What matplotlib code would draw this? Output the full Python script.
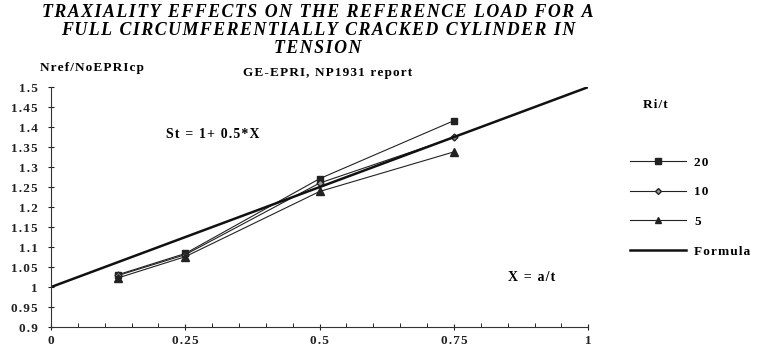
import numpy as np
import matplotlib.pyplot as plt
from matplotlib.ticker import MultipleLocator, FixedLocator

# a/t values and reference load ratios
x = [0.125, 0.25, 0.5, 0.75]
r20 = [1.031, 1.084, 1.271, 1.416]
r10 = [1.029, 1.081, 1.260, 1.374]
r5 = [1.023, 1.076, 1.239, 1.338]
formula_x = [0.0, 1.0]
formula_y = [1.0 + 0.5 * v for v in formula_x]

yticks = [0.9, 0.95, 1, 1.05, 1.1, 1.15, 1.2, 1.25, 1.3, 1.35, 1.4, 1.45, 1.5]
ylabels = ['0.9', '0.95', '1', '1.05', '1.1', '1.15', '1.2', '1.25', '1.3', '1.35', '1.4', '1.45', '1.5']
xticks = [0, 0.25, 0.5, 0.75, 1]
xlabels = ['0', '0.25', '0.5', '0.75', '1']
series_names = ['20', '10', '5', 'Formula']


def track(s):
    # old-style wide letter spacing: hair space between the characters
    return '\u200a'.join(s)


plt.rcParams['font.family'] = ['Liberation Serif', 'DejaVu Serif']
plt.rcParams['font.weight'] = 'bold'

fig = plt.figure(figsize=(7.6, 3.54), dpi=100)
ax = fig.add_axes([0.067, 0.076, 0.707, 0.678])

ax.plot(x, r20, color='#222222', lw=0.8, marker='s', ms=5, label=track(series_names[0]))
ax.plot(x, r10, color='#222222', lw=0.8, marker='D', ms=3.5, mfc='#999999', label=track(series_names[1]))
ax.plot(x, r5, color='#222222', lw=0.8, marker='^', ms=5.5, label=track(series_names[2]))
ax.plot(formula_x, formula_y, color='#111111', lw=1.8, label=track(series_names[3]))

ax.set_xlim(0, 1)
ax.set_ylim(0.9, 1.5)
ax.yaxis.set_major_locator(FixedLocator(yticks))
ax.set_yticklabels([track(t) for t in ylabels])
ax.xaxis.set_major_locator(FixedLocator(xticks))
ax.set_xticklabels([track(t) for t in xlabels])
ax.xaxis.set_minor_locator(MultipleLocator(0.05))

for s in ['top', 'right']:
    ax.spines[s].set_visible(False)
for s in ['left', 'bottom']:
    ax.spines[s].set_linewidth(0.8)
    ax.spines[s].set_color('#333333')
ax.tick_params(axis='both', which='major', direction='inout', length=5, width=0.8,
               labelsize=9.5, colors='#222222')
ax.tick_params(axis='x', which='major', pad=3)
ax.tick_params(axis='y', which='major', pad=7)
ax.tick_params(axis='x', which='minor', direction='in', length=3, width=0.6)
for lab in ax.get_xticklabels() + ax.get_yticklabels():
    lab.set_fontweight('bold')

title = ['TRAXIALITY EFFECTS ON THE REFERENCE LOAD FOR A',
         'FULL CIRCUMFERENTIALLY CRACKED CYLINDER IN', 'TENSION']
fig.text(0.418, 0.99, '\n'.join(track(t) for t in title),
         ha='center', va='top', fontsize=12.9, fontstyle='italic', fontweight='bold',
         linespacing=1.08)
fig.text(0.052, 0.807, track('Nref/NoEPRIcp'), ha='left', va='center', fontsize=9.5, fontweight='bold')
fig.text(0.32, 0.795, track('GE-EPRI, NP1931 report'), ha='left', va='center', fontsize=9.5, fontweight='bold')
ax.text(0.214, 1.382, track('St = 1+ 0.5*X'), ha='left', va='center', fontsize=10, fontweight='bold')
ax.text(0.85, 1.025, track('X = a/t'), ha='left', va='center', fontsize=10, fontweight='bold')
fig.text(0.846, 0.703, track('Ri/t'), ha='left', va='center', fontsize=9.5, fontweight='bold')

leg = fig.legend(loc='upper left', bbox_to_anchor=(0.813, 0.592), frameon=False,
                 fontsize=9.5, handlelength=4.3, labelspacing=1.32, handletextpad=0.6,
                 markerscale=0.85)
for t in leg.get_texts():
    t.set_fontweight('bold')

fig.savefig('out.png', dpi=100)
